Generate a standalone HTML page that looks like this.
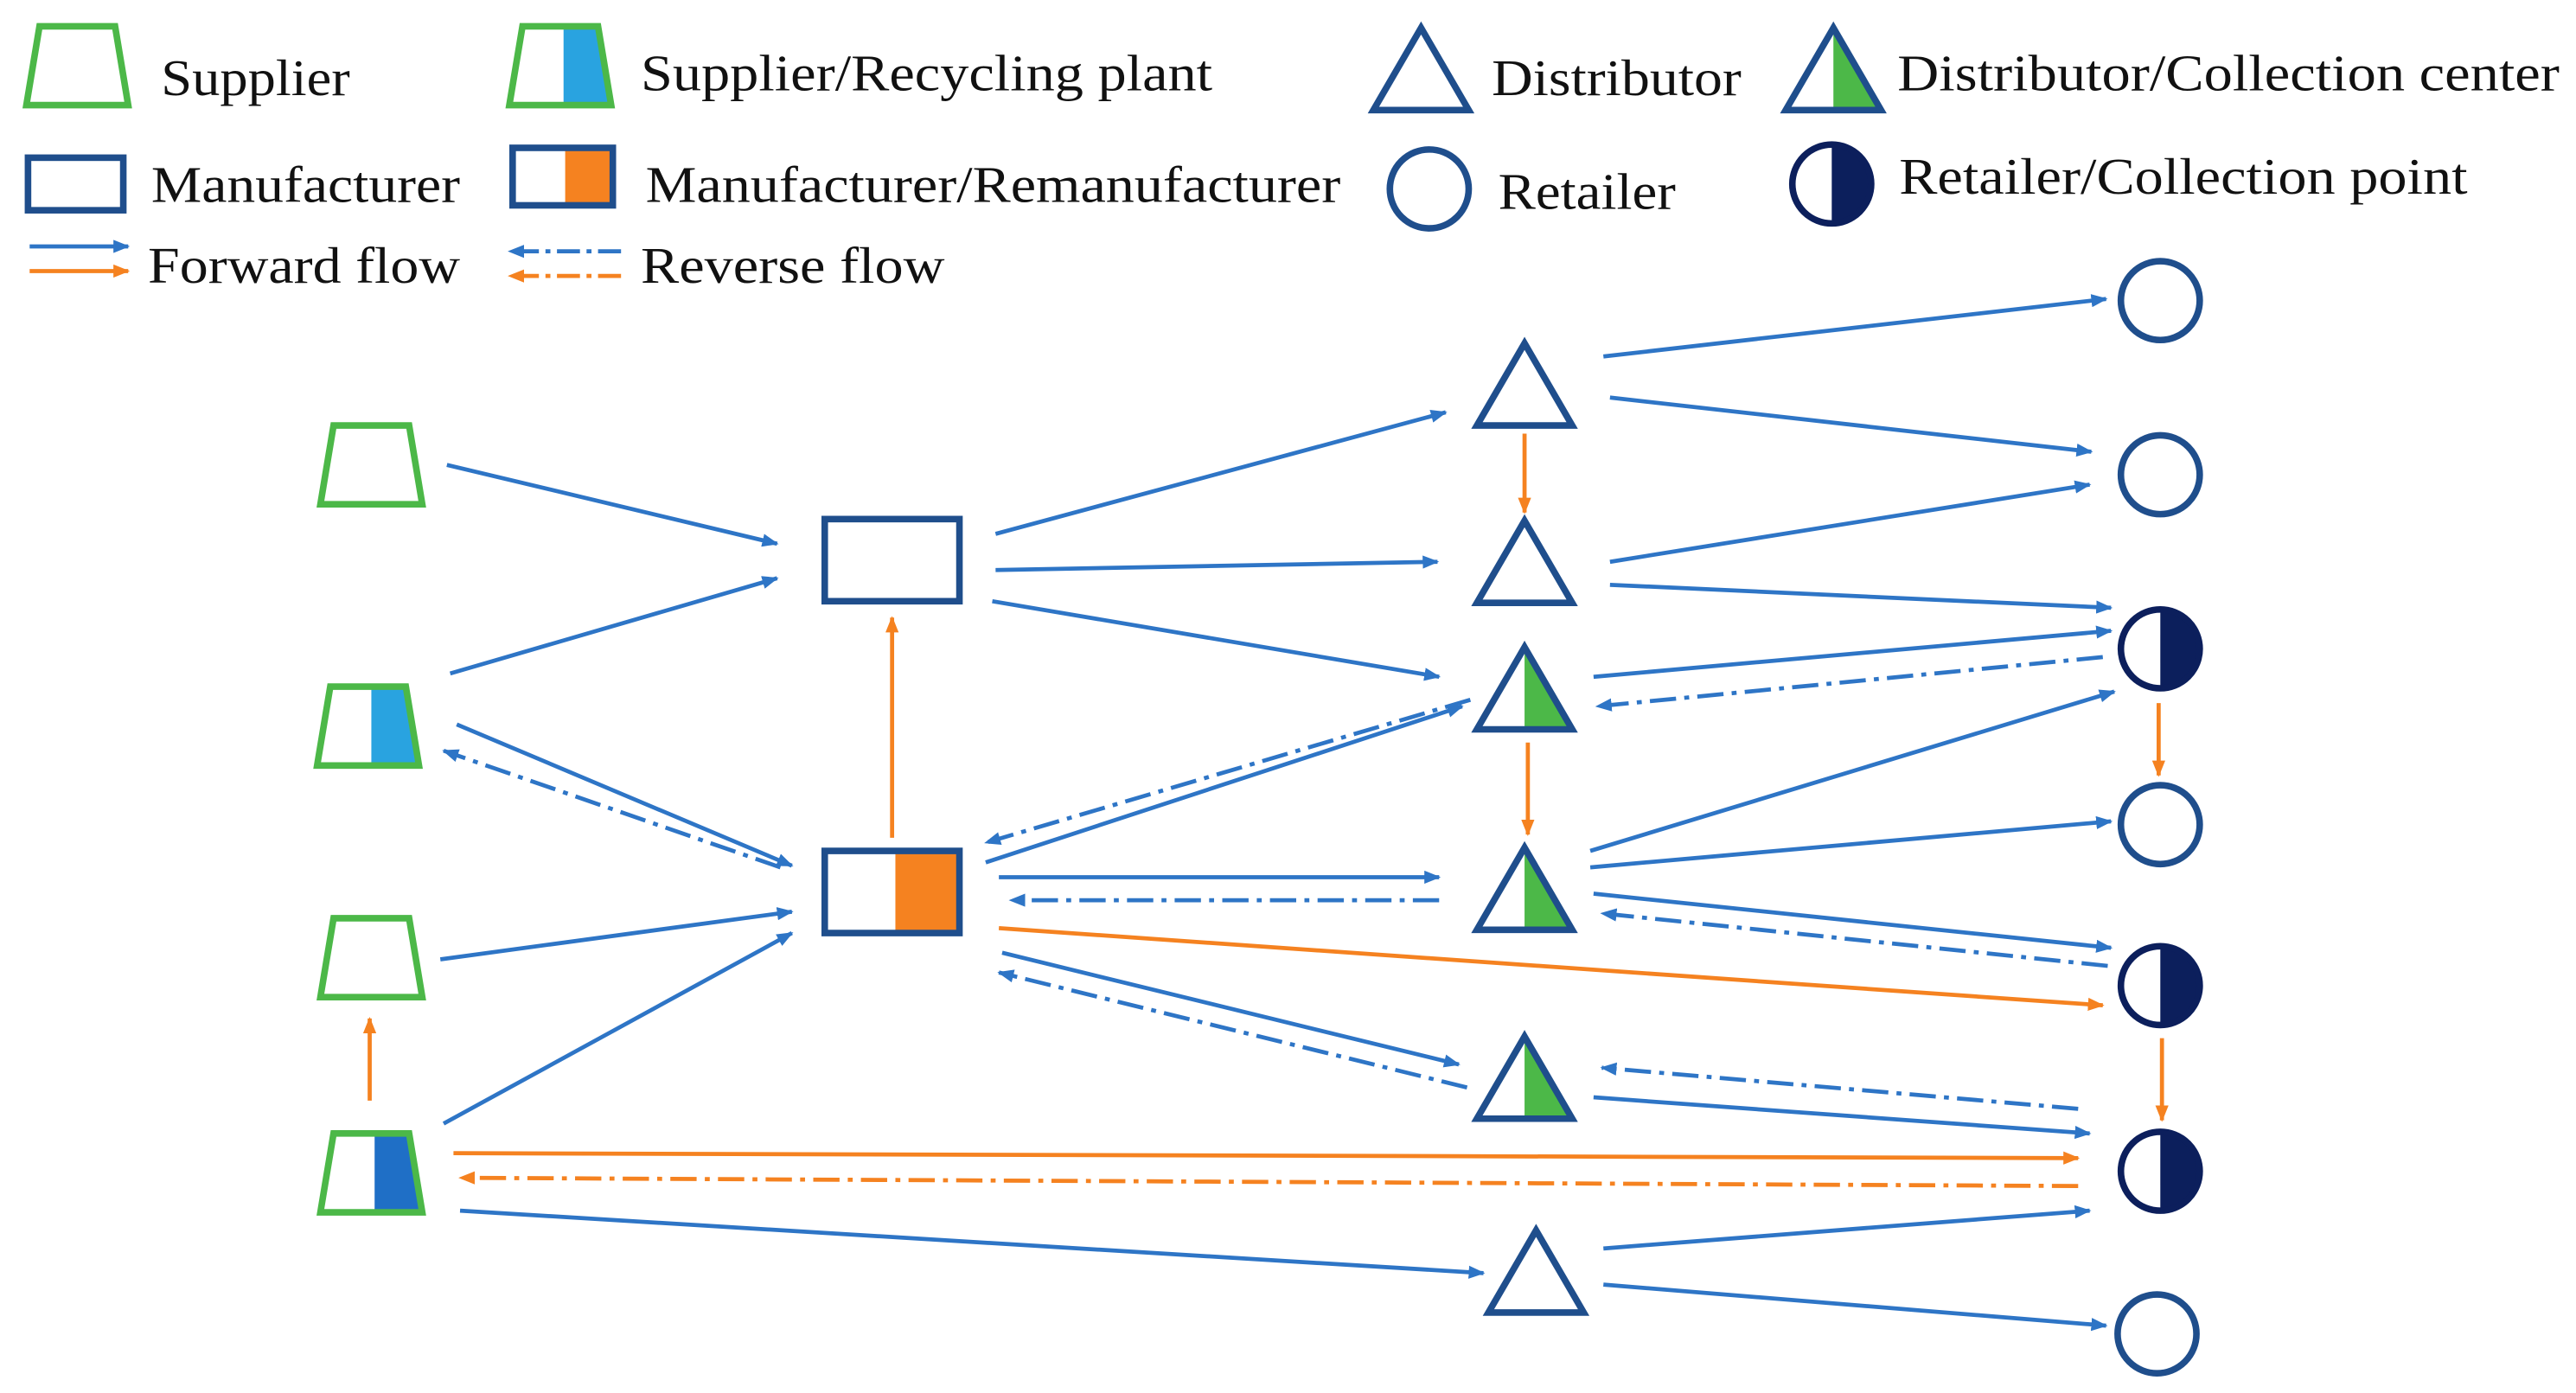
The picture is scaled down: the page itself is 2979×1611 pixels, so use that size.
<!DOCTYPE html>
<html><head><meta charset="utf-8"><style>
html,body{margin:0;padding:0;background:#fff;}
svg{display:block;}
text{font-family:"Liberation Serif",serif;font-size:31px;fill:#111;}
</style></head><body>
<svg width="2979" height="1611" viewBox="0 0 1568 848" xmlns="http://www.w3.org/2000/svg">
<defs>
<marker id="b" markerWidth="10" markerHeight="8" refX="9" refY="4" orient="auto" markerUnits="userSpaceOnUse"><path d="M0,0 L10,4 L0,8 Z" fill="#2e75c6"/></marker>
<marker id="o" markerWidth="10" markerHeight="8" refX="9" refY="4" orient="auto" markerUnits="userSpaceOnUse"><path d="M0,0 L10,4 L0,8 Z" fill="#f58220"/></marker>
<g id="trap"><polygon points="-23,-24 23,-24 31,24 -31,24" fill="#fff" stroke="#4cb848" stroke-width="4"/></g>
<g id="tri"><polygon points="0,-25 29,25 -29,25" fill="#fff" stroke="#1f4e8c" stroke-width="4"/></g>
<g id="triG"><polygon points="0,-25 29,25 0,25" fill="#4cb848"/><polygon points="0,-25 29,25 -29,25" fill="none" stroke="#1f4e8c" stroke-width="4"/></g>
<g id="circ"><circle r="24" fill="#fff" stroke="#1f4e8c" stroke-width="4"/></g>
<g id="circH"><path d="M0,-24 A24,24 0 0 1 0,24 Z" fill="#0c1f5c"/><circle r="24" fill="none" stroke="#0c1f5c" stroke-width="4"/></g>
<g id="rect"><rect x="-41" y="-25" width="82" height="50" fill="#fff" stroke="#1f4e8c" stroke-width="4"/></g>
<g id="rectO"><rect x="2" y="-25" width="39" height="50" fill="#f58220"/><rect x="-41" y="-25" width="82" height="50" fill="none" stroke="#1f4e8c" stroke-width="4"/></g>
</defs>

<!-- Legend -->
<use href="#trap" transform="translate(47,40)"/>
<text x="98" y="58" textLength="115" lengthAdjust="spacingAndGlyphs">Supplier</text>
<g transform="translate(341,40)"><polygon points="2,-24 23,-24 31,24 2,24" fill="#29a3e0"/><polygon points="-23,-24 23,-24 31,24 -31,24" fill="none" stroke="#4cb848" stroke-width="4"/></g>
<text x="390" y="55" textLength="348" lengthAdjust="spacingAndGlyphs">Supplier/Recycling plant</text>
<use href="#tri" transform="translate(865,42)"/>
<text x="908" y="58" textLength="152" lengthAdjust="spacingAndGlyphs">Distributor</text>
<use href="#triG" transform="translate(1116,42)"/>
<text x="1155" y="55" textLength="403" lengthAdjust="spacingAndGlyphs">Distributor/Collection center</text>
<rect x="17" y="96" width="58" height="32" fill="#fff" stroke="#1f4e8c" stroke-width="4"/>
<text x="92" y="123" textLength="188" lengthAdjust="spacingAndGlyphs">Manufacturer</text>
<rect x="344" y="90" width="29" height="35" fill="#f58220"/><rect x="312" y="90" width="61" height="35" fill="none" stroke="#1f4e8c" stroke-width="4"/>
<text x="393" y="123" textLength="423" lengthAdjust="spacingAndGlyphs">Manufacturer/Remanufacturer</text>
<use href="#circ" transform="translate(870,115)"/>
<text x="912" y="127" textLength="108" lengthAdjust="spacingAndGlyphs">Retailer</text>
<use href="#circH" transform="translate(1115,112)"/>
<text x="1156" y="118" textLength="346" lengthAdjust="spacingAndGlyphs">Retailer/Collection point</text>
<line x1="18" y1="150" x2="78" y2="150" stroke="#2e75c6" stroke-width="2.5" marker-end="url(#b)"/>
<line x1="18" y1="165" x2="78" y2="165" stroke="#f58220" stroke-width="2.5" marker-end="url(#o)"/>
<text x="90" y="172" textLength="190" lengthAdjust="spacingAndGlyphs">Forward flow</text>
<line x1="378" y1="153" x2="310" y2="153" stroke="#2e75c6" stroke-width="2.5" stroke-dasharray="14,4,3,4" marker-end="url(#b)"/>
<line x1="378" y1="168" x2="310" y2="168" stroke="#f58220" stroke-width="2.5" stroke-dasharray="14,4,3,4" marker-end="url(#o)"/>
<text x="390" y="172" textLength="185" lengthAdjust="spacingAndGlyphs">Reverse  flow</text>

<!-- Blue forward -->
<g stroke="#2e75c6" stroke-width="2.5" fill="none" marker-end="url(#b)">
<line x1="272" y1="283" x2="473" y2="331"/>
<line x1="274" y1="410" x2="473" y2="352"/>
<line x1="278" y1="441" x2="482" y2="527"/>
<line x1="268" y1="584" x2="482" y2="555"/>
<line x1="270" y1="684" x2="482" y2="568"/>
<line x1="606" y1="325" x2="880" y2="251"/>
<line x1="606" y1="347" x2="875" y2="342"/>
<line x1="604" y1="366" x2="876" y2="412"/>
<line x1="600" y1="525" x2="890" y2="430"/>
<line x1="608" y1="534" x2="876" y2="534"/>
<line x1="610" y1="580" x2="888" y2="648"/>
<line x1="976" y1="217" x2="1282" y2="182"/>
<line x1="980" y1="242" x2="1273" y2="275"/>
<line x1="980" y1="342" x2="1272" y2="295"/>
<line x1="980" y1="356" x2="1285" y2="370"/>
<line x1="970" y1="412" x2="1285" y2="384"/>
<line x1="968" y1="518" x2="1287" y2="421"/>
<line x1="968" y1="528" x2="1285" y2="500"/>
<line x1="970" y1="544" x2="1285" y2="577"/>
<line x1="970" y1="668" x2="1272" y2="690"/>
<line x1="280" y1="737" x2="903" y2="775"/>
<line x1="976" y1="760" x2="1272" y2="737"/>
<line x1="976" y1="782" x2="1282" y2="807"/>
</g>
<!-- Blue reverse -->
<g stroke="#2e75c6" stroke-width="2.5" fill="none" stroke-dasharray="16,5,3,5" marker-end="url(#b)">
<line x1="475" y1="528" x2="270" y2="457"/>
<line x1="895" y1="426" x2="600" y2="513"/>
<line x1="876" y1="548" x2="615" y2="548"/>
<line x1="893" y1="662" x2="608" y2="592"/>
<line x1="1280" y1="400" x2="972" y2="430"/>
<line x1="1283" y1="588" x2="975" y2="556"/>
<line x1="1265" y1="675" x2="975" y2="650"/>
</g>
<!-- Orange -->
<g stroke="#f58220" stroke-width="2.5" fill="none" marker-end="url(#o)">
<line x1="608" y1="565" x2="1280" y2="612"/>
<line x1="276" y1="702" x2="1265" y2="705"/>
<line x1="543" y1="510" x2="543" y2="376"/>
<line x1="928" y1="264" x2="928" y2="312"/>
<line x1="930" y1="452" x2="930" y2="508"/>
<line x1="1314" y1="428" x2="1314" y2="472"/>
<line x1="1316" y1="632" x2="1316" y2="682"/>
<line x1="225" y1="670" x2="225" y2="620"/>
<line x1="1265" y1="722" x2="280" y2="717" stroke-dasharray="16,5,3,5"/>
</g>

<!-- Nodes -->
<use href="#trap" transform="translate(226,283)"/>
<g transform="translate(224,442)"><polygon points="2,-24 23,-24 31,24 2,24" fill="#29a3e0"/><polygon points="-23,-24 23,-24 31,24 -31,24" fill="none" stroke="#4cb848" stroke-width="4"/></g>
<use href="#trap" transform="translate(226,583)"/>
<g transform="translate(226,714)"><polygon points="2,-24 23,-24 31,24 2,24" fill="#1f6fc6"/><polygon points="-23,-24 23,-24 31,24 -31,24" fill="none" stroke="#4cb848" stroke-width="4"/></g>
<use href="#rect" transform="translate(543,341)"/>
<use href="#rectO" transform="translate(543,543)"/>
<use href="#tri" transform="translate(928,234)"/>
<use href="#tri" transform="translate(928,342)"/>
<use href="#triG" transform="translate(928,419)"/>
<use href="#triG" transform="translate(928,541)"/>
<use href="#triG" transform="translate(928,656)"/>
<use href="#tri" transform="translate(935,774)"/>
<use href="#circ" transform="translate(1315,183)"/>
<use href="#circ" transform="translate(1315,289)"/>
<use href="#circH" transform="translate(1315,395)"/>
<use href="#circ" transform="translate(1315,502)"/>
<use href="#circH" transform="translate(1315,600)"/>
<use href="#circH" transform="translate(1315,713)"/>
<use href="#circ" transform="translate(1313,812)"/>
</svg>
</body></html>
